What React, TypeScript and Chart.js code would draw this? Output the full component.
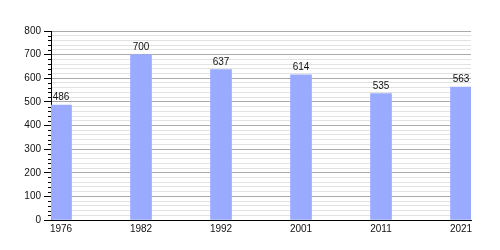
import React, { useEffect, useRef } from "react";
import { Chart, registerables } from "chart.js";

Chart.register(...registerables);

const years = ["1976", "1982", "1992", "2001", "2011", "2021"];
const population = [486, 700, 637, 614, 535, 563];
const yMin = 0;
const yMax = 800;
const yMajorStep = 100;
const yMinorStep = 20;

const FONT = "'Liberation Sans', Arial, sans-serif";

export default function App() {
  const ref = useRef<HTMLCanvasElement | null>(null);

  useEffect(() => {
    if (!ref.current) return;

    const minorTicks = {
      id: "minorTicks",
      afterDraw(chart: any) {
        const y = chart.scales.y;
        const ctx = chart.ctx;
        const left = chart.chartArea.left;
        ctx.save();
        ctx.strokeStyle = "#000";
        ctx.lineWidth = 1;
        for (let v = yMin; v <= yMax; v += yMinorStep) {
          if (v % yMajorStep === 0) continue;
          const py = Math.round(y.getPixelForValue(v)) + 0.5;
          ctx.beginPath();
          ctx.moveTo(left - 3, py);
          ctx.lineTo(left, py);
          ctx.stroke();
        }
        ctx.restore();
      },
    };

    const valueLabels = {
      id: "valueLabels",
      afterDatasetsDraw(chart: any) {
        const ctx = chart.ctx;
        const meta = chart.getDatasetMeta(0);
        ctx.save();
        ctx.fillStyle = "#111";
        ctx.font = `10px ${FONT}`;
        ctx.textAlign = "center";
        ctx.textBaseline = "alphabetic";
        meta.data.forEach((bar: any, i: number) => {
          ctx.fillText(String(population[i]), bar.x, bar.y - 5);
        });
        ctx.restore();
      },
    };

    const chart = new Chart(ref.current, {
      type: "bar",
      data: {
        datasets: [
          {
            data: population.map((v, i) => ({ x: i, y: v })),
            backgroundColor: "#99aaff",
            borderWidth: 0,
            barThickness: 21,
          },
        ],
      },
      options: {
        animation: false,
        responsive: false,
        layout: { padding: { top: 31, right: 29, left: 0, bottom: 0 } },
        plugins: {
          legend: { display: false },
          tooltip: { enabled: false },
        },
        scales: {
          x: {
            type: "linear",
            offset: false,
            min: -0.125,
            max: years.length - 1 + 0.125,
            afterBuildTicks: (scale: any) => {
              scale.ticks = years.map((_, i) => ({ value: i }));
            },
            afterFit: (scale: any) => {
              scale.height = 30;
            },
            grid: { display: false, drawTicks: false, offset: false },
            border: { display: true, color: "#000", width: 1 },
            ticks: {
              autoSkip: false,
              maxRotation: 0,
              padding: 3,
              color: "#111",
              font: { family: FONT, size: 10 },
              callback: (v: any) => years[v as number] ?? "",
            },
          },
          y: {
            min: yMin,
            max: yMax,
            afterFit: (scale: any) => {
              scale.width = 51;
            },
            grid: {
              color: (ctx: any) =>
                ctx.tick && ctx.tick.value % yMajorStep === 0 ? "#aaaaaa" : "#e2e2e2",
              tickColor: (ctx: any) =>
                ctx.tick && ctx.tick.value % yMajorStep === 0 ? "#000" : "rgba(0,0,0,0)",
              tickLength: 7,
            },
            border: { display: true, color: "#000", width: 1 },
            ticks: {
              stepSize: yMinorStep,
              autoSkip: false,
              padding: 3,
              color: "#111",
              font: { family: FONT, size: 10 },
              callback: (v: any) => ((v as number) % yMajorStep === 0 ? String(v) : ""),
            },
          },
        },
      },
      plugins: [minorTicks, valueLabels],
    } as any);

    return () => chart.destroy();
  }, []);

  return (
    <div style={{ position: "absolute", left: 0, top: 0, width: 500, height: 250, background: "#fff" }}>
      <canvas ref={ref} width={500} height={250} style={{ display: "block", width: 500, height: 250 }} />
    </div>
  );
}
